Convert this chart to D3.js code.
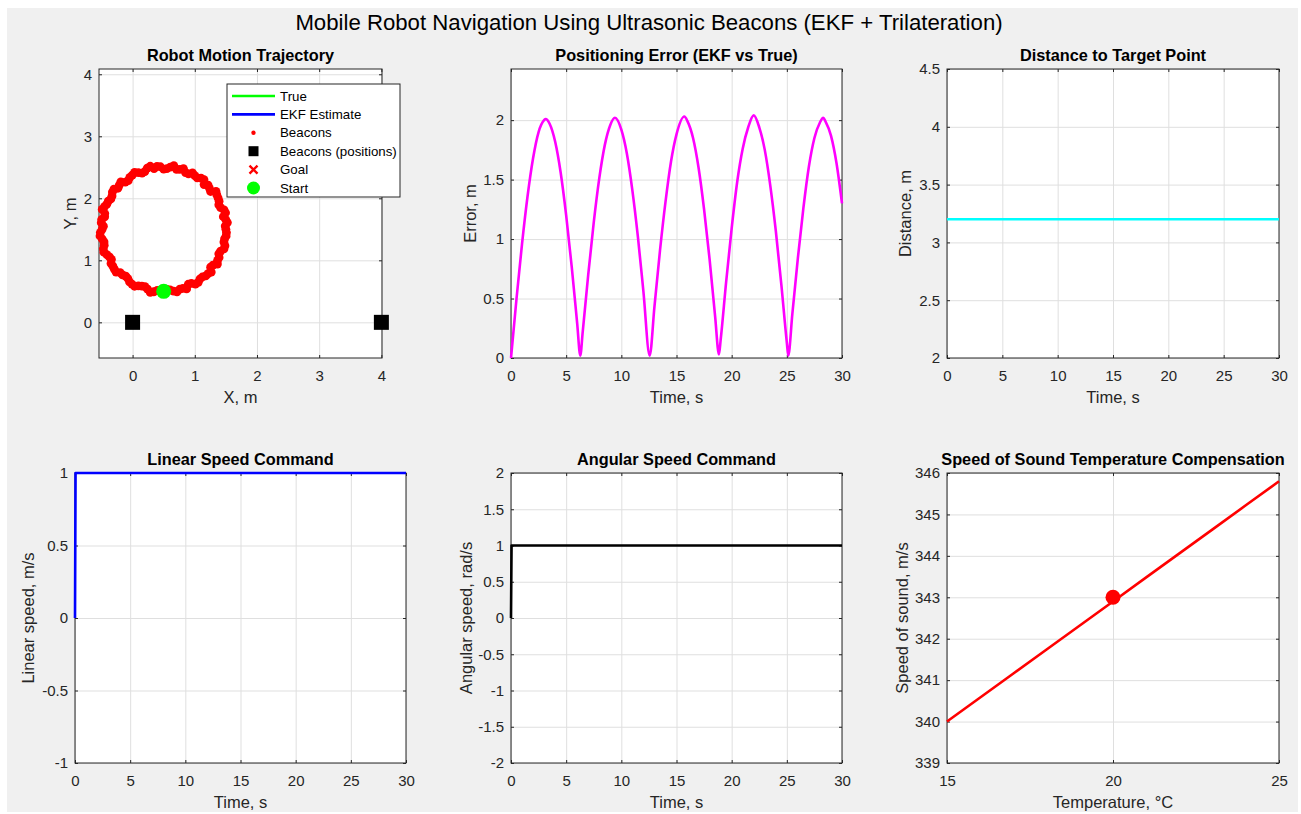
<!DOCTYPE html>
<html lang="en">
<head>
  <meta charset="UTF-8">
  <title>Mobile Robot Navigation Using Ultrasonic Beacons</title>
  <script src="https://d3js.org/d3.v7.min.js"></script>
  <style>
    body { margin: 0; background: #fff; }
    svg { display: block; font-family: "Liberation Sans", Arial, sans-serif; }
  </style>
</head>
<body>
  <svg id="chart" width="1301" height="814"></svg>
  <script>
    // ---- data ----
    // noisy beacon-based position fixes around the circular path
    const fixX = [1.500, 1.524, 1.459, 1.470, 1.386, 1.375, 1.341, 1.236, 1.149, 1.100,
                  1.000, 0.899, 0.818, 0.706, 0.606, 0.500, 0.393, 0.284, 0.197, 0.093,
                  -0.005, -0.070, -0.189, -0.236, -0.325, -0.349, -0.414, -0.489, -0.449, -0.504,
                  -0.490, -0.524, -0.459, -0.470, -0.414, -0.340, -0.317, -0.265, -0.162, -0.076,
                  -0.010, 0.093, 0.200, 0.284, 0.397, 0.500, 0.602, 0.714, 0.809, 0.895,
                  1.010, 1.082, 1.176, 1.265, 1.293, 1.366, 1.386, 1.470, 1.468, 1.504,
                  1.489, 1.498, 1.495, 1.415, 1.391, 1.355, 1.254, 1.214, 1.148, 1.039,
                  0.963, 0.851, 0.759, 0.663, 0.551, 0.447, 0.345, 0.236, 0.152, 0.032,
                  -0.045, -0.117, -0.214, -0.300, -0.330, -0.391, -0.452, -0.447, -0.498, -0.469,
                  -0.519, -0.488, -0.456, -0.462, -0.373, -0.347, -0.293, -0.200, -0.110, -0.050,
                  0.032, 0.149, 0.241, 0.340, 0.448, 0.551, 0.658, 0.759, 0.869, 0.945,
                  1.056, 1.123, 1.214, 1.254, 1.364, 1.391, 1.415, 1.485, 1.478, 1.509];
    const fixY = [1.500, 1.608, 1.704, 1.815, 1.895, 2.005, 2.111, 2.162, 2.221, 2.325,
                  2.366, 2.395, 2.480, 2.468, 2.504, 2.470, 2.514, 2.517, 2.432, 2.414,
                  2.375, 2.285, 2.265, 2.162, 2.100, 1.990, 1.907, 1.821, 1.702, 1.606,
                  1.500, 1.392, 1.296, 1.185, 1.093, 1.015, 0.906, 0.811, 0.764, 0.707,
                  0.617, 0.587, 0.577, 0.483, 0.515, 0.490, 0.525, 0.493, 0.549, 0.614,
                  0.617, 0.699, 0.749, 0.811, 0.924, 1.000, 1.106, 1.185, 1.294, 1.394,
                  1.552, 1.658, 1.767, 1.851, 1.954, 2.055, 2.110, 2.214, 2.300, 2.330,
                  2.409, 2.415, 2.466, 2.527, 2.479, 2.509, 2.478, 2.485, 2.406, 2.418,
                  2.339, 2.262, 2.214, 2.148, 2.039, 1.954, 1.866, 1.754, 1.658, 1.551,
                  1.447, 1.344, 1.244, 1.131, 1.055, 0.950, 0.858, 0.800, 0.746, 0.653,
                  0.582, 0.585, 0.534, 0.493, 0.511, 0.531, 0.502, 0.534, 0.538, 0.627,
                  0.645, 0.731, 0.786, 0.890, 0.939, 1.046, 1.149, 1.236, 1.345, 1.447];
    const beaconX = [0, 4];
    const beaconY = [0, 0];
    const startPt = [0.5, 0.5];

    const errT = [0, 0.5, 1, 1.5, 2, 2.5, 3, 3.14, 3.5, 4, 4.5, 5, 5.5, 6, 6.28, 6.5, 7, 7.5, 8, 8.5,
                  9, 9.42, 10, 10.5, 11, 11.5, 12, 12.57, 13, 13.5, 14, 14.5, 15, 15.71, 16, 16.5, 17,
                  17.5, 18, 18.5, 18.85, 19, 19.5, 20, 20.5, 21, 21.5, 22, 22.5, 23, 23.5, 24, 24.5,
                  25, 25.13, 25.5, 26, 26.5, 27, 27.5, 28, 28.3, 28.5, 29, 29.5, 30];
    const errV = [0, 0.50, 0.96, 1.36, 1.68, 1.90, 2.00, 2.01, 1.97, 1.82, 1.56, 1.20, 0.77, 0.29, 0.02, 0.22, 0.70, 1.14, 1.51, 1.79,
                  1.96, 2.02, 1.92, 1.72, 1.41, 1.02, 0.56, 0.02, 0.43, 0.90, 1.31, 1.65, 1.88, 2.03, 1.99, 1.85, 1.60,
                  1.25, 0.83, 0.35, 0.03, 0.15, 0.64, 1.09, 1.48, 1.76, 1.94, 2.04, 1.94, 1.75, 1.45, 1.07, 0.62,
                  0.13, 0.02, 0.37, 0.84, 1.26, 1.61, 1.85, 1.98, 2.02, 1.99, 1.87, 1.64, 1.30];

    const distT = [0, 30];
    const distV = [3.2, 3.2];

    const linT = [0, 0.05, 30];
    const linV = [0, 1, 1];

    const angT = [0, 0.05, 30];
    const angV = [0, 1, 1];

    const tempC = [15, 16, 17, 18, 19, 20, 21, 22, 23, 24, 25];
    const soundV = [340.0, 340.58, 341.16, 341.74, 342.32, 342.9, 343.48, 344.06, 344.64, 345.22, 345.8];
    const refPoint = [20, 343];

    const timeTicks = [0, 5, 10, 15, 20, 25, 30];

    const svg = d3.select("#chart");
    const TXT = "#262626";

    svg.append("rect").attr("x", 7).attr("y", 8).attr("width", 1291).attr("height", 804).attr("fill", "#f0f0f0");

    svg.append("text")
       .attr("x", 649).attr("y", 30)
       .attr("text-anchor", "middle")
       .attr("font-size", 22.2).attr("fill", "#000")
       .text("Mobile Robot Navigation Using Ultrasonic Beacons (EKF + Trilateration)");

    // one MATLAB-like axes box with grid, inward ticks, labels
    function panel(p) {
      const x = d3.scaleLinear().domain(p.xd).range([p.x0, p.x1]);
      const y = d3.scaleLinear().domain(p.yd).range([p.y1, p.y0]);
      const w = p.x1 - p.x0, h = p.y1 - p.y0;
      const g = svg.append("g");
      const fmt = d => String(d);

      g.append("rect").attr("x", p.x0).attr("y", p.y0).attr("width", w).attr("height", h).attr("fill", "#fff");

      // grid
      g.append("g").attr("transform", `translate(0,${p.y1})`)
       .call(d3.axisBottom(x).tickValues(p.xt).tickSize(-h).tickFormat(""))
       .call(s => { s.select(".domain").remove(); s.selectAll("line").attr("stroke", "#dfdfdf"); });
      g.append("g").attr("transform", `translate(${p.x0},0)`)
       .call(d3.axisLeft(y).tickValues(p.yt).tickSize(-w).tickFormat(""))
       .call(s => { s.select(".domain").remove(); s.selectAll("line").attr("stroke", "#dfdfdf"); });

      const style = s => {
        s.select(".domain").remove();
        s.selectAll("line").attr("stroke", TXT);
        s.selectAll("text").attr("fill", TXT).attr("font-size", 15).attr("font-family", "Liberation Sans, Arial, sans-serif");
      };
      g.append("g").attr("transform", `translate(0,${p.y1})`)
       .call(d3.axisBottom(x).tickValues(p.xt).tickSize(-3).tickPadding(12).tickFormat(fmt)).call(style);
      g.append("g").attr("transform", `translate(0,${p.y0})`)
       .call(d3.axisTop(x).tickValues(p.xt).tickSize(-3).tickFormat("")).call(style);
      g.append("g").attr("transform", `translate(${p.x0},0)`)
       .call(d3.axisLeft(y).tickValues(p.yt).tickSize(-3).tickPadding(7).tickFormat(fmt)).call(style);
      g.append("g").attr("transform", `translate(${p.x1},0)`)
       .call(d3.axisRight(y).tickValues(p.yt).tickSize(-3).tickFormat("")).call(style);

      g.append("rect").attr("x", p.x0).attr("y", p.y0).attr("width", w).attr("height", h)
       .attr("fill", "none").attr("stroke", TXT).attr("stroke-width", 1);

      g.append("text").attr("x", (p.x0 + p.x1) / 2).attr("y", p.y0 - 8)
       .attr("text-anchor", "middle").attr("font-size", 16.3).attr("font-weight", "bold").attr("fill", "#000")
       .text(p.title);
      g.append("text").attr("x", (p.x0 + p.x1) / 2).attr("y", p.y1 + 45)
       .attr("text-anchor", "middle").attr("font-size", 16.5).attr("fill", TXT)
       .text(p.xl);
      g.append("text").attr("transform", `translate(${p.ylX},${(p.y0 + p.y1) / 2}) rotate(-90)`)
       .attr("text-anchor", "middle").attr("dy", "0.35em").attr("font-size", 16.5).attr("fill", TXT)
       .text(p.yl);

      return { x, y, g };
    }

    function drawLine(ax, xs, ys, color, curve) {
      ax.g.append("path")
        .datum(xs.map((v, i) => [v, ys[i]]))
        .attr("fill", "none").attr("stroke", color).attr("stroke-width", 2.6)
        .attr("stroke-linejoin", "round")
        .attr("d", d3.line().x(d => ax.x(d[0])).y(d => ax.y(d[1])).curve(curve || d3.curveLinear));
    }

    // ---- 1: trajectory ----
    const a1 = panel({ x0: 99, x1: 382, y0: 69, y1: 358, xd: [-0.54, 4.01], yd: [-0.575, 4.085],
                       xt: [0, 1, 2, 3, 4], yt: [0, 1, 2, 3, 4],
                       title: "Robot Motion Trajectory", xl: "X, m", yl: "Y, m", ylX: 70 });
    a1.g.append("g").selectAll("circle").data(fixX.map((v, i) => [v, fixY[i]])).enter()
      .append("circle").attr("cx", d => a1.x(d[0])).attr("cy", d => a1.y(d[1])).attr("r", 4.4).attr("fill", "#ff0000");
    a1.g.append("g").selectAll("rect").data(beaconX.map((v, i) => [v, beaconY[i]])).enter()
      .append("rect").attr("x", d => a1.x(d[0]) - 7.5).attr("y", d => a1.y(d[1]) - 7.5)
      .attr("width", 15).attr("height", 15).attr("fill", "#000");
    a1.g.append("circle").attr("cx", a1.x(startPt[0])).attr("cy", a1.y(startPt[1])).attr("r", 7.5).attr("fill", "#00ff00");

    // legend
    const lg = a1.g.append("g");
    lg.append("rect").attr("x", 227).attr("y", 84).attr("width", 173).attr("height", 113)
      .attr("fill", "#fff").attr("stroke", TXT).attr("stroke-width", 1);
    const legendItems = ["True", "EKF Estimate", "Beacons", "Beacons (positions)", "Goal", "Start"];
    legendItems.forEach((name, i) => {
      const cy = 96 + i * 18.4, cx = 253.5;
      if (i === 0 || i === 1) {
        lg.append("line").attr("x1", 232).attr("x2", 275).attr("y1", cy).attr("y2", cy)
          .attr("stroke", i === 0 ? "#00ff00" : "#0000ff").attr("stroke-width", 2.6);
      } else if (i === 2) {
        lg.append("circle").attr("cx", cx).attr("cy", cy).attr("r", 2.2).attr("fill", "#ff0000");
      } else if (i === 3) {
        lg.append("rect").attr("x", cx - 5).attr("y", cy - 5).attr("width", 10).attr("height", 10).attr("fill", "#000");
      } else if (i === 4) {
        lg.append("path").attr("d", `M${cx - 4},${cy - 4}L${cx + 4},${cy + 4}M${cx - 4},${cy + 4}L${cx + 4},${cy - 4}`)
          .attr("stroke", "#ff0000").attr("stroke-width", 2.4);
      } else {
        lg.append("circle").attr("cx", cx).attr("cy", cy).attr("r", 6.5).attr("fill", "#00ff00");
      }
      lg.append("text").attr("x", 280).attr("y", cy).attr("dy", "0.35em")
        .attr("font-size", 13.3).attr("fill", "#000").text(name);
    });

    // ---- 2: positioning error ----
    const a2 = panel({ x0: 511, x1: 842, y0: 69, y1: 358, xd: [0, 30], yd: [0, 2.43],
                       xt: timeTicks, yt: [0, 0.5, 1, 1.5, 2],
                       title: "Positioning Error (EKF vs True)", xl: "Time, s", yl: "Error, m", ylX: 470 });
    drawLine(a2, errT, errV, "#ff00ff", d3.curveMonotoneX);

    // ---- 3: distance to target ----
    const a3 = panel({ x0: 947, x1: 1279, y0: 69, y1: 358, xd: [0, 30], yd: [2, 4.5],
                       xt: timeTicks, yt: [2, 2.5, 3, 3.5, 4, 4.5],
                       title: "Distance to Target Point", xl: "Time, s", yl: "Distance, m", ylX: 905 });
    drawLine(a3, distT, distV, "#00ffff");

    // ---- 4: linear speed ----
    const a4 = panel({ x0: 75, x1: 406, y0: 473, y1: 763, xd: [0, 30], yd: [-1, 1],
                       xt: timeTicks, yt: [-1, -0.5, 0, 0.5, 1],
                       title: "Linear Speed Command", xl: "Time, s", yl: "Linear speed, m/s", ylX: 28 });
    drawLine(a4, linT, linV, "#0000ff");

    // ---- 5: angular speed ----
    const a5 = panel({ x0: 511, x1: 842, y0: 473, y1: 763, xd: [0, 30], yd: [-2, 2],
                       xt: timeTicks, yt: [-2, -1.5, -1, -0.5, 0, 0.5, 1, 1.5, 2],
                       title: "Angular Speed Command", xl: "Time, s", yl: "Angular speed, rad/s", ylX: 466 });
    drawLine(a5, angT, angV, "#000000");

    // ---- 6: speed of sound ----
    const a6 = panel({ x0: 947, x1: 1279, y0: 473, y1: 763, xd: [15, 25], yd: [339, 346],
                       xt: [15, 20, 25], yt: [339, 340, 341, 342, 343, 344, 345, 346],
                       title: "Speed of Sound Temperature Compensation", xl: "Temperature, °C", yl: "Speed of sound, m/s", ylX: 902 });
    drawLine(a6, tempC, soundV, "#ff0000");
    a6.g.append("circle").attr("cx", a6.x(refPoint[0])).attr("cy", a6.y(refPoint[1])).attr("r", 7.5).attr("fill", "#ff0000");
  </script>
</body>
</html>
